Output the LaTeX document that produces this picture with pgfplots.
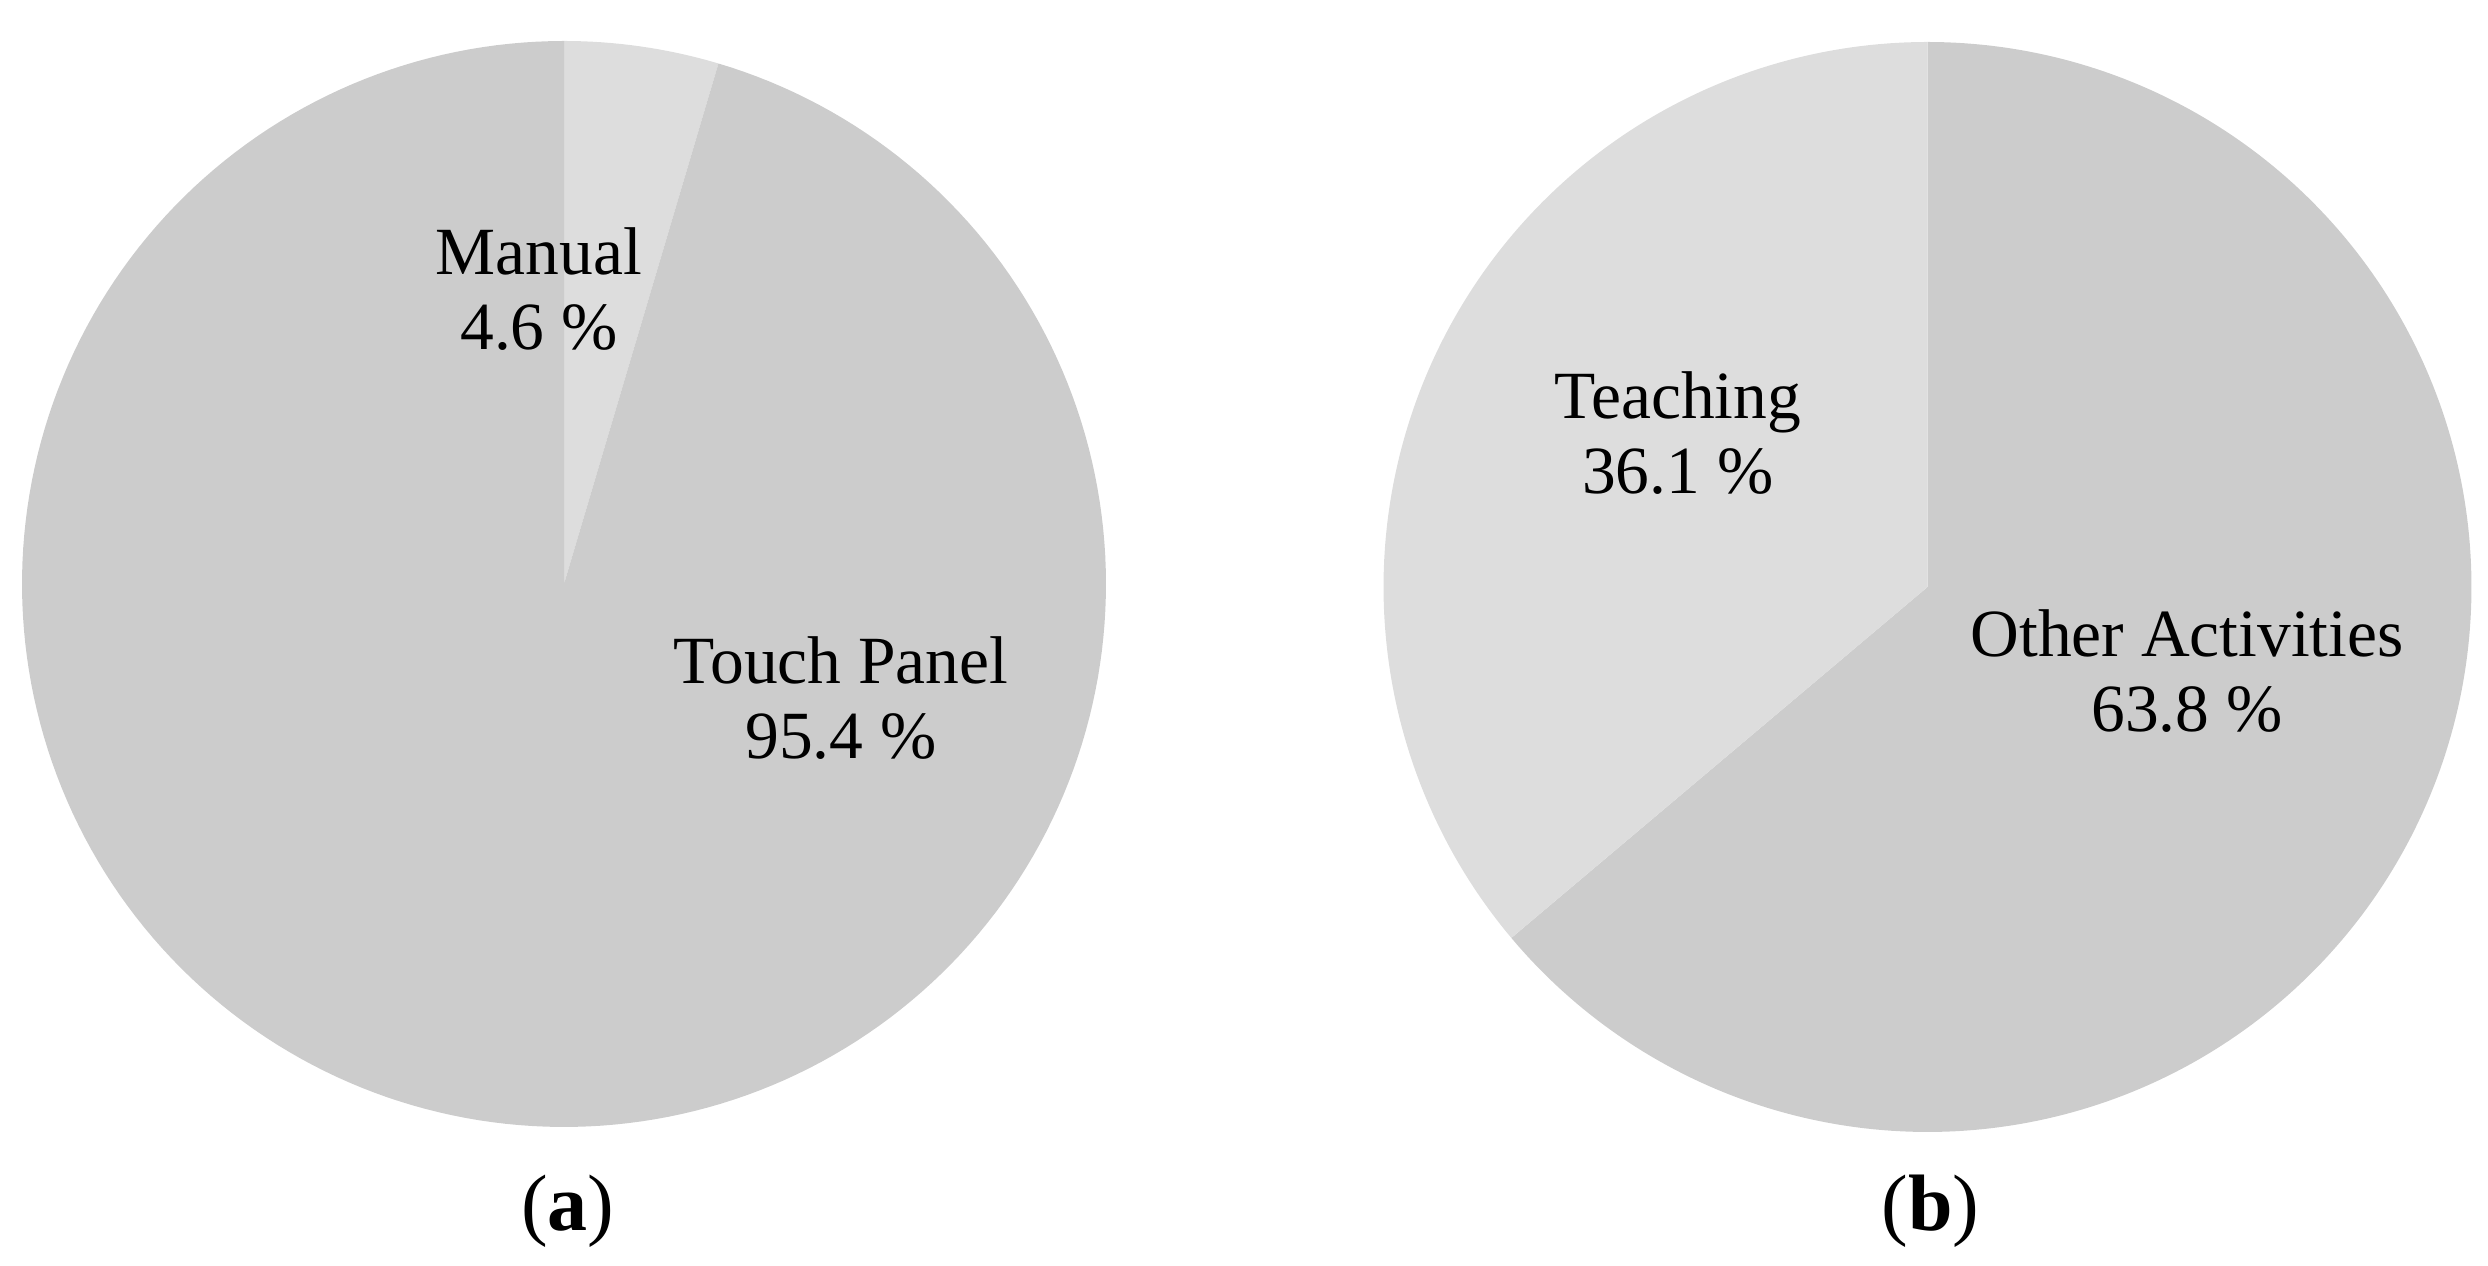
\documentclass[border=0pt]{standalone}
\usepackage{fontspec}
\setmainfont{Liberation Serif}
\usepackage{pgfplots}
\pgfplotsset{compat=1.18}
\definecolor{sdark}{HTML}{CCCCCC}
\definecolor{slight}{HTML}{DDDDDD}
% #1 cumulative start value, #2 slice value, #3 total, #4 colour
\newcommand{\pieslice}[4]{%
  \pgfmathsetmacro\angA{90-360*((#1)/(#3))}%
  \pgfmathsetmacro\angB{90-360*(((#1)+(#2))/(#3))}%
  \addplot[draw=none, fill=#4, domain=\angB:\angA, samples=240]
    ({cos(x)},{sin(x)}) -- (axis cs:0,0) -- cycle;
}
\pgfplotsset{pieaxis/.style={
  hide axis, scale only axis,
  xmin=-1, xmax=1, ymin=-1, ymax=1, clip=false, anchor=center}}
\begin{document}
\begin{tikzpicture}
\useasboundingbox (0,0) rectangle (497.6pt,253.2pt);
% (a) Manual 4.6, Touch Panel 95.4
\begin{axis}[pieaxis, width=216.8pt, height=217.2pt, at={(112.8pt,136.4pt)}]
  \pieslice{0}{4.6}{100}{slight}
  \pieslice{4.6}{95.4}{100}{sdark}
  \node[align=center, font=\fontsize{13.5}{15}\selectfont] at (axis cs:-0.046,0.543) {Manual\\4.6 \%};
  \node[align=center, font=\fontsize{13.5}{15}\selectfont] at (axis cs:0.511,-0.211) {Touch Panel\\95.4 \%};
  \node[font=\fontsize{16}{18}\selectfont] at (axis cs:0.007,-1.155) {(\textbf{a})};
\end{axis}
% (b) Other Activities 63.8, Teaching 36.1
\begin{axis}[pieaxis, width=217.6pt, height=218pt, at={(385.5pt,135.8pt)}]
  \pieslice{0}{63.8}{99.9}{sdark}
  \pieslice{63.8}{36.1}{99.9}{slight}
  \node[align=center, font=\fontsize{13.5}{15}\selectfont] at (axis cs:-0.459,0.282) {Teaching\\36.1 \%};
  \node[align=center, font=\fontsize{13.5}{15}\selectfont] at (axis cs:0.477,-0.155) {Other Activities\\63.8 \%};
  \node[font=\fontsize{16}{18}\selectfont] at (axis cs:0.005,-1.146) {(\textbf{b})};
\end{axis}
\end{tikzpicture}
\end{document}
